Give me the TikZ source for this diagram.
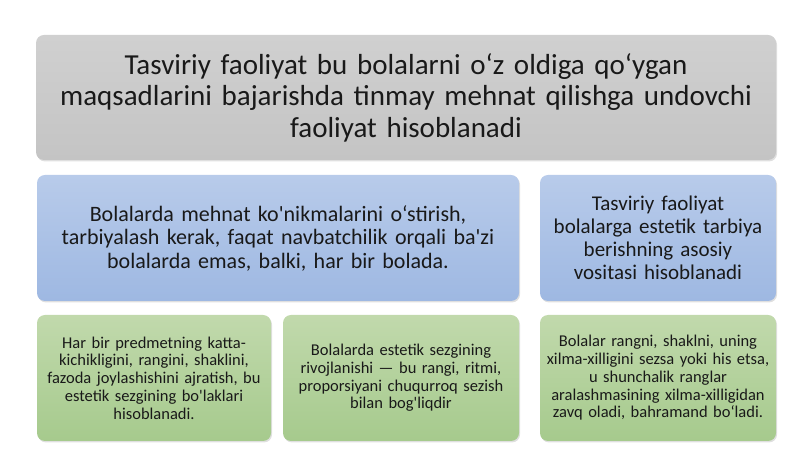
\documentclass[tikz,border=0pt]{standalone}
\usepackage{fontspec}
\setmainfont{Carlito}
\usetikzlibrary{shadows}
\definecolor{grayTop}{RGB}{208,208,208}
\definecolor{grayBot}{RGB}{196,196,196}
\definecolor{blueTop}{RGB}{184,203,234}
\definecolor{blueBot}{RGB}{158,184,226}
\definecolor{greenTop}{RGB}{193,217,172}
\definecolor{greenBot}{RGB}{166,202,141}
\begin{document}
\begin{tikzpicture}[x=1pt, y=1pt,
    box/.style={rounded corners=8pt, align=center, inner sep=0pt,
        minimum height=126pt, text=black!90,
        drop shadow={shadow xshift=1pt, shadow yshift=-1.5pt, opacity=.25}},
    graybox/.style={box, top color=grayTop, bottom color=grayBot},
    bluebox/.style={box, top color=blueTop, bottom color=blueBot},
    greenbox/.style={box, top color=greenTop, bottom color=greenBot}]
    \useasboundingbox (0,0) rectangle (800,449);
    \node[graybox, minimum width=740pt, minimum height=125pt, text width=736pt,
        font=\fontsize{29}{31.5}\selectfont] (aim) at (406,351.5)
        {Tasviriy faoliyat bu bolalarni o‘z oldiga qo‘ygan\\
        maqsadlarini bajarishda tinmay mehnat qilishga undovchi\\
        faoliyat hisoblanadi};
    \node[bluebox, minimum width=482pt, text width=478pt,
        font=\fontsize{22}{23.5}\selectfont] (labour) at (278,211)
        {Bolalarda mehnat ko\textquotesingle nikmalarini o‘stirish,\\
        tarbiyalash kerak, faqat navbatchilik orqali ba\textquotesingle zi\\
        bolalarda emas, balki, har bir bolada.};
    \node[bluebox, minimum width=236pt, text width=232pt,
        font=\fontsize{21}{23}\selectfont] (means) at (658,211)
        {Tasviriy faoliyat\\ bolalarga estetik tarbiya\\
        berishning asosiy\\ vositasi hisoblanadi};
    \node[greenbox, minimum width=234pt, text width=230pt,
        font=\fontsize{16.5}{17.7}\selectfont] (parts) at (154,71)
        {Har bir predmetning katta-\\ kichikligini, rangini, shaklini,\\
        fazoda joylashishini ajratish, bu\\ estetik sezgining bo\textquotesingle laklari\\
        hisoblanadi.};
    \node[greenbox, minimum width=236pt, text width=232pt,
        font=\fontsize{16.5}{17.7}\selectfont] (sense) at (401,71)
        {Bolalarda estetik sezgining\\ rivojlanishi — bu rangi, ritmi,\\
        proporsiyani chuqurroq sezish\\ bilan bog\textquotesingle liqdir};
    \node[greenbox, minimum width=236pt, text width=232pt,
        font=\fontsize{16.5}{17.7}\selectfont] (joy) at (658,71)
        {Bolalar rangni, shaklni, uning\\ xilma-xilligini sezsa yoki his etsa,\\
        u shunchalik ranglar\\ aralashmasining xilma-xilligidan\\
        zavq oladi, bahramand bo‘ladi.};
\end{tikzpicture}
\end{document}
